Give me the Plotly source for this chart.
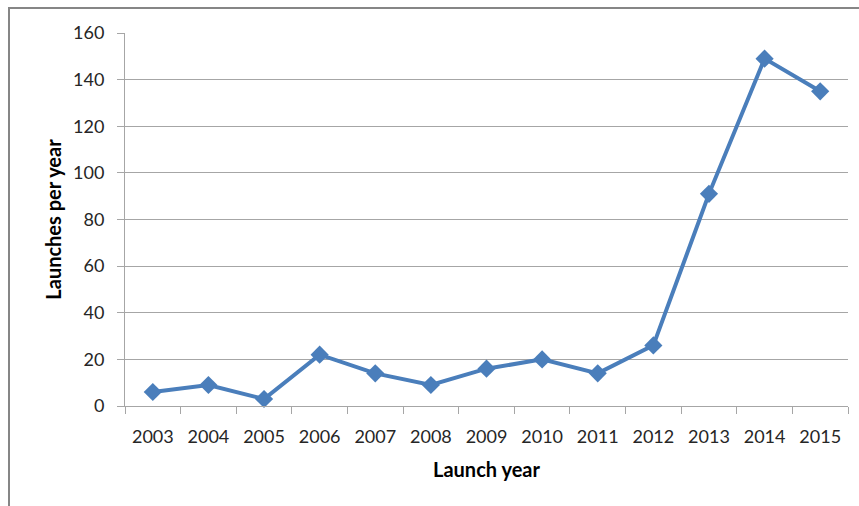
import plotly.graph_objects as go

years = ["2003", "2004", "2005", "2006", "2007", "2008", "2009",
         "2010", "2011", "2012", "2013", "2014", "2015"]
launches = [6, 9, 3, 22, 14, 9, 16, 20, 14, 26, 91, 149, 135]
y_ticks = [0, 20, 40, 60, 80, 100, 120, 140, 160]

line_color = "#4A7EBB"
grid_color = "#A6A6A6"
font_family = "Lato, 'Open Sans', sans-serif"

fig = go.Figure()
fig.add_trace(go.Scatter(
    x=years, y=launches, mode="lines+markers",
    line=dict(color=line_color, width=4),
    marker=dict(symbol="diamond", size=14, color=line_color),
    showlegend=False, cliponaxis=False,
))

fig.update_layout(
    width=859, height=506,
    margin=dict(l=125, r=11, t=33, b=100),
    paper_bgcolor="white", plot_bgcolor="white",
    font=dict(family=font_family, size=18, color="#262626"),
    xaxis=dict(
        type="category", range=[-0.5, 12.5],
        tickson="boundaries", ticks="outside", ticklen=7,
        tickcolor=grid_color, tickwidth=1,
        showline=True, linecolor=grid_color, linewidth=1,
        showgrid=False, zeroline=False, ticklabelstandoff=14,
        title=dict(text="<b>Launch year</b>", font=dict(size=20, color="#000000"), standoff=17),
        automargin=False,
    ),
    yaxis=dict(
        range=[0, 160], tickvals=y_ticks,
        ticks="outside", ticklen=7, tickcolor=grid_color, tickwidth=1,
        showline=True, linecolor=grid_color, linewidth=1,
        showgrid=True, gridcolor=grid_color, gridwidth=1,
        zeroline=False, ticklabelstandoff=9,
        title=dict(text="<b>Launches per year</b>", font=dict(size=20, color="#000000"), standoff=6),
        automargin=False,
    ),
    shapes=[dict(
        type="rect", xref="paper", yref="paper",
        x0=(9 - 125) / 723, x1=1.2, y0=-0.6, y1=(406 - 8) / 373,
        line=dict(color="#868686", width=2), fillcolor="rgba(0,0,0,0)",
        layer="below",
    )],
)

fig.write_html("out.html")
